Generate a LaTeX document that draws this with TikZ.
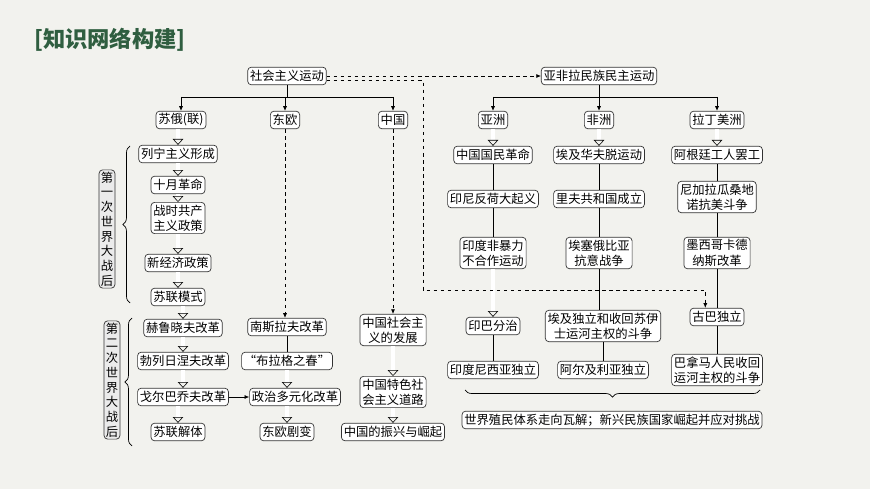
\documentclass[tikz,border=0pt]{standalone}
\usepackage{fontspec}
\setmainfont{Noto Sans CJK SC}
\usetikzlibrary{positioning, arrows.meta, calc, decorations.pathreplacing}
\definecolor{paper}{HTML}{F2F2EE}
\definecolor{titlegreen}{HTML}{2F5E40}
\begin{document}
\begin{tikzpicture}[
    x=0.03cm, y=-0.03cm,
    box/.style={rectangle, draw=black!80, line width=0.6pt, rounded corners=3pt, fill=white,
                inner sep=2pt, minimum height=15pt, font=\fontsize{10.5}{13}\selectfont, align=center},
    side/.style={box, fill=black!8, inner sep=1.5pt, font=\fontsize{10.5}{12.6}\selectfont},
    arr/.style={-{Latex[length=4pt, width=3.5pt]}, line width=0.6pt},
    hollow/.style={-{Triangle[open, length=5pt, width=9pt]}, double, double distance=3pt, line width=0.5pt},
    link/.style={line width=0.5pt},
    dashlink/.style={dashed, line width=0.5pt},
    brc/.style={decorate, decoration={brace, amplitude=6pt}, line width=0.6pt}
]
    \fill[paper] (0,0) rectangle (870,489);
    \node[font=\fontsize{19}{22}\selectfont\bfseries, text=titlegreen, anchor=west] (title) at (30,40) {[知识网络构建]};

    % Top level
    \node[box] (soc) at (287,76) {社会主义运动};
    \node[box] (afl) at (599,76) {亚非拉民族民主运动};
    \node[box] (sul) at (181,120) {苏俄(联)};
    \node[box] (dou) at (285,120) {东欧};
    \node[box] (zg) at (393,120) {中国};
    \node[box] (yz) at (493,120) {亚洲};
    \node[box] (fz) at (599,120) {非洲};
    \node[box] (lm) at (717,120) {拉丁美洲};
    \coordinate (bar) at (0,97);
    \draw[link] (soc) -- (soc |- bar);
    \draw[link] (sul |- bar) -- (zg |- bar);
    \foreach \t in {sul, dou, zg} \draw[arr] (\t |- bar) -- (\t);
    \draw[link] (afl) -- (afl |- bar);
    \draw[link] (yz |- bar) -- (lm |- bar);
    \foreach \t in {yz, fz, lm} \draw[arr] (\t |- bar) -- (\t);

    % Soviet column
    \node[box] (lnz) at (178,154) {列宁主义形成};
    \node[box] (sy) at (178,185) {十月革命};
    \node[box] (zs) at (178,218) {战时共产\\主义政策};
    \node[box] (xj) at (178,263) {新经济政策};
    \node[box] (slm) at (178,297) {苏联模式};
    \node[box] (hl) at (183,328) {赫鲁晓夫改革};
    \node[box] (bl) at (183,361) {勃列日涅夫改革};
    \node[box] (ge) at (183,397) {戈尔巴乔夫改革};
    \node[box] (jt) at (178,432) {苏联解体};
    \foreach \a/\b in {sul/lnz, lnz/sy, sy/zs, zs/xj, xj/slm, slm/hl, hl/bl, bl/ge, ge/jt}
        \draw[hollow] (\a.south -| \b) -- (\b.north);
    \node[side] (one) at (107,229) {第\\一\\次\\世\\界\\大\\战\\后};
    \node[side] (two) at (112,380) {第\\二\\次\\世\\界\\大\\战\\后};
    \draw[brc] (130,303) -- (130,146);
    \draw[brc] (132,446) -- (132,318);

    % Eastern Europe column
    \node[box] (nsl) at (287,327) {南斯拉夫改革};
    \node[box] (blg) at (287,361) {“布拉格之春”};
    \node[box] (zz) at (295,397) {政治多元化改革};
    \node[box] (jb) at (287,432) {东欧剧变};
    \draw[dashlink, arr] (dou) -- (dou |- nsl.north);
    \draw[link] (nsl.south -| blg) -- (blg);
    \draw[hollow] (blg.south -| 287,0) -- (zz.north -| 287,0);
    \draw[hollow] (zz.south -| jb) -- (jb);
    \draw[arr] (ge) -- (zz);

    % China column
    \node[box] (zsh) at (393,330) {中国社会主\\义的发展};
    \node[box] (ts) at (393,392) {中国特色社\\会主义道路};
    \node[box] (zx) at (393,432) {中国的振兴与崛起};
    \draw[dashlink, arr] (zg) -- (zsh);
    \draw[hollow] (zsh) -- (ts);
    \draw[hollow] (ts) -- (zx);

    % Asia column
    \node[box] (gm) at (493,155) {中国国民革命};
    \node[box] (yn) at (493,199) {印尼反荷大起义};
    \node[box] (fb) at (493,253) {印度非暴力\\不合作运动};
    \node[box] (yb) at (493,326) {印巴分治};
    \node[box] (ynd) at (493,370) {印度尼西亚独立};
    \draw[hollow] (yz) -- (gm);
    \draw[link] (gm) -- (yn);
    \draw[link] (yn) -- (fb);
    \draw[hollow] (fb) -- (yb);
    \draw[link] (yb) -- (ynd);

    % Africa column
    \node[box] (wf) at (599,155) {埃及华夫脱运动};
    \node[box] (lf) at (599,199) {里夫共和国成立};
    \node[box] (as) at (599,253) {埃塞俄比亚\\抗意战争};
    \node[box] (ay) at (603,326) {埃及独立和收回苏伊\\士运河主权的斗争};
    \node[box] (ae) at (603,370) {阿尔及利亚独立};
    \draw[hollow] (fz) -- (wf);
    \draw[link] (wf) -- (lf);
    \draw[link] (lf) -- (as);
    \draw[link] (as) -- (as |- ay.north);
    \draw[link] (ay) -- (ae);

    % Latin America column
    \node[box] (ag) at (717,155) {阿根廷工人罢工};
    \node[box] (nj) at (717,197) {尼加拉瓜桑地\\诺抗美斗争};
    \node[box] (mx) at (717,253) {墨西哥卡德\\纳斯改革};
    \node[box] (gb) at (717,317) {古巴独立};
    \node[box] (bn) at (717,370) {巴拿马人民收回\\运河主权的斗争};
    \draw[hollow] (lm) -- (ag);
    \draw[link] (ag) -- (nj);
    \draw[link] (nj) -- (mx);
    \draw[link] (mx) -- (gb);
    \draw[link] (gb) -- (bn);

    % Dashed links between the two movements
    \draw[dashlink, arr] (soc.east) -- (afl.west);
    \draw[dashlink, arr] ([yshift=-4pt]soc.east) -| (423,290) -| ([xshift=-10pt]gb.north);

    % Summary
    \node[box] (sj) at (612,420) {世界殖民体系走向瓦解；新兴民族国家崛起并应对挑战};
    \draw[brc] (760,390) -- (465,390);
\end{tikzpicture}
\end{document}
